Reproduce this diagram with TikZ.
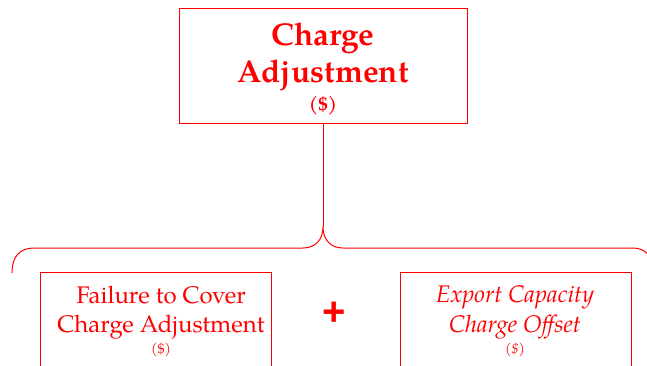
\documentclass[tikz,border=0pt]{standalone}
\usepackage{fontspec}
\setmainfont{TeX Gyre Pagella}
\newfontfamily\plusfont{Liberation Sans}
\definecolor{cred}{RGB}{255,0,0}
\tikzset{
  box/.style={draw=cred, line width=0.9pt, rectangle, inner sep=0pt},
  lbl/.style={text=cred, anchor=base, inner sep=0pt},
  conn/.style={draw=cred, line width=1pt},
}
\begin{document}
\begin{tikzpicture}[x=1pt,y=-1pt]
\useasboundingbox (0,0) rectangle (647,365);
\clip (0,0) rectangle (647,365);
% boxes
\node[box, minimum width=288pt, minimum height=115pt] (top) at (323,66) {};
\node[box, minimum width=231pt, minimum height=140pt] (left) at (155.5,342) {};
\node[box, minimum width=231pt, minimum height=140pt] (right) at (515.5,342) {};
% labels top
\node[lbl, font=\fontsize{31.5}{36}\selectfont\bfseries] (t1) at (323,45) {Charge};
\node[lbl, font=\fontsize{31.5}{36}\selectfont\bfseries] (t2) at (323,82) {Adjustment};
\node[lbl, font=\fontsize{19}{22}\selectfont\bfseries] (t3) at (323,110) {(\$)};
% labels left
\node[lbl, font=\fontsize{24}{29}\selectfont] (l1) at (161,303) {Failure to Cover};
\node[lbl, font=\fontsize{24}{29}\selectfont] (l2) at (161,332) {Charge Adjustment};
\node[lbl, font=\fontsize{14}{16}\selectfont] (l3) at (161,353) {(\$)};
% labels right
\node[lbl, font=\fontsize{24}{29}\selectfont\itshape] (r1) at (515,302) {Export Capacity};
\node[lbl, font=\fontsize{24}{29}\selectfont\itshape] (r2) at (515,332) {Charge Offset};
\node[lbl, font=\fontsize{14}{16}\selectfont\itshape] (r3) at (515,353) {(\$)};
% plus
\node[text=cred, inner sep=0pt, font=\plusfont\fontsize{40}{40}\selectfont\bfseries] (plus) at (334,314) {+};
% connector
\coordinate (cusp) at (323,227);
\coordinate (lend) at (12,273);
\coordinate (rend) at (654,272);
\draw[conn] (top.south) -- (cusp);
\draw[conn] (lend) .. controls (12,256) and (20,248) .. (34,248) -- (303,248)
  .. controls (315,248) and (323,240) .. (cusp)
  .. controls (323,240) and (331,248) .. (343,248) -- (633,248)
  .. controls (645,248) and (653,256) .. (rend);
\end{tikzpicture}
\end{document}
